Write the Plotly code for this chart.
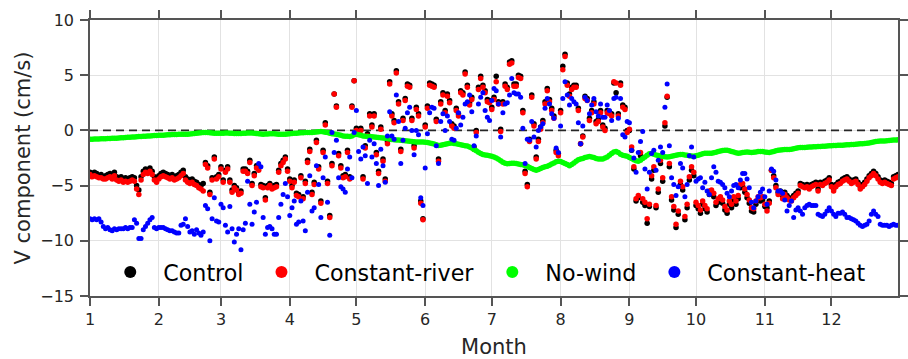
import plotly.graph_objects as go

# Day of year (0 = 1 January), one value per day
month_tick_days = [0, 31, 59, 90, 120, 151, 181, 212, 243, 273, 304, 334]
month_tick_labels = ["1", "2", "3", "4", "5", "6", "7", "8", "9", "10", "11", "12"]

control = [
    -3.8,-3.9,-3.8,-3.9,-4.1,-4.0,-4.2,-4.1,-4.0,-3.9,
    -4.1,-3.8,-4.2,-4.3,-4.2,-4.4,-4.3,-4.4,-4.3,-4.2,
    -4.3,-5.0,-5.4,-4.2,-3.7,-3.5,-3.6,-3.4,-3.7,-4.2,
    -4.4,-4.1,-3.9,-3.8,-3.9,-4.0,-4.1,-4.0,-4.2,-4.1,
    -4.0,-3.8,-3.6,-4.2,-4.4,-4.5,-4.4,-4.6,-4.7,-4.9,
    -5.0,-4.8,-2.9,-3.2,-5.6,-4.3,-2.4,-4.2,-4.0,-3.3,
    -4.5,-3.6,-3.3,-4.5,-5.4,-5.0,-5.2,-5.6,-5.5,-3.5,
    -3.5,-3.7,-2.7,-4.8,-3.9,-3.2,-3.4,-4.9,-5.0,-6.1,
    -5.0,-4.8,-5.1,-5.0,-4.9,-3.6,-3.0,-2.7,-2.4,-3.5,
    -4.4,-5.0,-4.5,-5.7,-5.8,-4.1,-6.0,-4.6,-2.7,-1.7,
    -5.6,-4.7,-0.9,-3.3,-6.4,-1.8,0.7,-4.6,-7.7,-3.0,
    3.3,2.2,-2.1,-3.2,-4.1,-4.0,-1.8,-4.2,2.2,4.5,
    0.2,0.0,0.2,-4.2,-1.4,-0.3,1.5,0.5,1.5,-2.0,
    -3.7,0.3,-2.6,-4.4,-1.0,4.4,1.5,0.9,5.4,2.6,
    -1.7,1.1,2.9,4.2,4.1,1.1,-1.4,2.1,1.5,-6.4,
    -8.0,0.5,2.2,4.3,4.2,4.1,1.0,-2.6,2.6,3.4,
    1.8,3.3,2.7,0.6,0.4,2.0,1.5,3.6,3.4,5.3,
    4.1,2.5,3.0,-1.5,0.0,3.9,4.9,4.1,3.6,2.8,
    2.7,2.1,3.0,4.9,2.6,0.1,2.6,4.2,3.9,6.2,
    6.3,4.2,4.2,5.0,4.9,1.8,-3.7,-4.9,-0.8,3.2,
    0.6,-2.4,-0.8,0.3,0.9,2.6,3.8,2.8,2.0,1.3,
    -1.8,-2.1,1.8,5.8,6.9,4.3,3.3,3.9,4.1,4.1,
    2.0,-1.2,-0.5,3.1,2.9,1.1,1.8,2.6,0.8,1.0,
    1.8,0.5,0.2,1.8,1.7,1.5,4.3,3.4,1.5,4.3,
    2.3,2.1,0.0,0.0,-1.8,-3.5,-6.4,-6.1,-2.3,-6.5,
    -6.8,-8.4,-6.9,-4.4,-3.6,-7.0,-5.6,-3.0,-4.6,0.4,
    3.0,-3.3,-6.3,-7.2,-8.8,-7.6,-4.9,-5.4,-8.1,-7.0,
    -4.5,-3.6,-4.1,-6.8,-7.1,-7.5,-6.7,-7.1,-7.4,-5.8,
    -5.7,-6.0,-6.8,-6.5,-6.3,-6.6,-7.2,-7.5,-6.7,-7.0,
    -6.3,-6.7,-6.2,-5.2,-5.1,-5.6,-6.1,-6.6,-7.3,-7.4,
    -6.7,-6.3,-6.4,-6.3,-6.9,-7.0,-6.4,-3.6,-4.1,-5.0,
    -5.6,-5.5,-6.0,-5.6,-5.9,-6.1,-6.2,-5.9,-5.7,-5.5,
    -4.8,-4.9,-5.0,-4.9,-5.1,-4.9,-4.8,-4.7,-5.3,-4.7,
    -4.8,-4.6,-4.5,-4.3,-4.9,-5.3,-4.9,-4.7,-4.6,-4.4,
    -4.3,-4.2,-4.4,-4.6,-4.5,-4.4,-4.7,-5.1,-4.9,-4.7,
    -4.4,-4.1,-3.9,-3.7,-3.9,-4.2,-4.5,-4.6,-4.5,-4.6,
    -4.7,-4.8,-4.2,-4.1,-4.0,
]

constant_river = [
    -4.0,-4.2,-4.1,-4.2,-4.3,-4.3,-4.4,-4.4,-4.3,-4.2,
    -4.4,-4.1,-4.5,-4.6,-4.5,-4.7,-4.6,-4.7,-4.6,-4.5,
    -4.6,-5.3,-5.8,-4.5,-4.0,-3.8,-3.9,-3.7,-4.0,-4.5,
    -4.7,-4.4,-4.2,-4.1,-4.2,-4.3,-4.4,-4.3,-4.5,-4.4,
    -4.3,-4.1,-3.9,-4.5,-4.7,-4.8,-4.7,-4.9,-5.0,-5.2,
    -5.3,-5.5,-3.1,-3.4,-5.8,-4.5,-2.6,-4.4,-4.2,-3.5,
    -4.7,-3.8,-3.5,-4.7,-5.6,-5.2,-5.4,-5.8,-5.7,-3.7,
    -3.7,-3.9,-2.9,-5.0,-4.1,-3.4,-3.6,-5.1,-5.2,-6.3,
    -5.2,-5.0,-5.3,-5.2,-5.1,-3.8,-3.2,-2.9,-2.6,-3.7,
    -4.6,-5.2,-4.7,-5.9,-6.0,-4.3,-6.2,-4.8,-2.9,-1.9,
    -5.8,-4.9,-1.1,-3.5,-6.6,-2.0,0.5,-4.8,-7.9,-3.2,
    3.3,2.1,-2.3,-3.4,-4.3,-4.2,-2.0,-4.4,2.1,4.5,
    0.0,-0.2,0.0,-4.4,-1.6,-0.5,1.3,0.3,1.3,-2.2,
    -3.9,0.1,-2.8,-4.6,-1.2,4.2,1.3,0.7,5.2,2.4,
    -1.9,0.9,2.7,4.0,3.9,0.9,-1.6,1.9,1.3,-6.6,
    -8.1,0.3,2.0,4.1,4.0,3.9,0.8,-2.8,2.4,3.2,
    1.6,3.1,2.5,0.4,0.2,1.8,1.3,3.4,3.2,5.1,
    3.9,2.3,2.8,-1.7,-0.2,3.7,4.7,3.9,3.4,2.6,
    2.5,1.9,2.8,4.4,2.4,-0.1,2.4,4.0,3.7,6.0,
    6.1,4.0,4.0,4.8,4.7,1.6,-3.9,-5.1,-1.0,3.0,
    0.4,-2.6,-1.0,0.1,0.7,2.4,3.6,2.6,1.8,1.1,
    -2.0,-2.3,1.6,5.5,6.7,4.1,3.1,3.7,3.9,3.9,
    1.8,-1.2,-0.6,2.9,2.7,0.9,1.6,2.4,0.6,0.8,
    1.6,0.3,0.0,1.6,1.5,1.3,4.4,4.3,1.3,4.1,
    2.1,1.9,-0.2,0.1,-1.5,-3.3,-6.2,-5.9,-2.0,-6.2,
    -6.5,-8.0,-6.7,-4.1,-3.3,-6.8,-5.3,-2.7,-4.3,0.7,
    3.1,-3.0,-6.0,-6.9,-8.5,-7.3,-4.6,-5.1,-7.8,-6.7,
    -4.2,-3.3,-3.8,-6.5,-6.8,-7.2,-6.4,-6.8,-7.1,-5.5,
    -5.4,-5.7,-6.5,-6.2,-6.0,-6.3,-6.9,-7.2,-6.4,-6.7,
    -6.0,-6.4,-5.9,-4.9,-4.8,-5.3,-5.8,-6.3,-7.0,-7.1,
    -6.4,-6.0,-6.1,-6.0,-6.7,-7.3,-6.6,-3.6,-4.3,-5.2,
    -5.8,-5.7,-6.2,-5.8,-6.1,-6.3,-6.4,-6.1,-5.9,-5.7,
    -5.0,-5.1,-5.2,-5.1,-5.3,-5.1,-5.0,-4.9,-5.5,-4.9,
    -5.0,-4.8,-4.7,-4.5,-5.1,-5.5,-5.1,-4.9,-4.8,-4.6,
    -4.5,-4.4,-4.6,-4.8,-4.7,-4.6,-4.9,-5.3,-5.1,-4.9,
    -4.6,-4.3,-4.1,-3.9,-4.1,-4.4,-4.7,-4.8,-4.7,-4.8,
    -4.9,-5.0,-4.4,-4.3,-4.2,
]

no_wind = [
    -0.80,-0.80,-0.78,-0.78,-0.77,-0.76,-0.76,-0.75,-0.74,-0.74,
    -0.72,-0.70,-0.70,-0.68,-0.66,-0.66,-0.64,-0.62,-0.62,-0.60,
    -0.60,-0.58,-0.56,-0.55,-0.54,-0.52,-0.50,-0.50,-0.48,-0.47,
    -0.46,-0.45,-0.45,-0.44,-0.42,-0.40,-0.40,-0.38,-0.38,-0.37,
    -0.36,-0.36,-0.35,-0.34,-0.34,-0.32,-0.30,-0.28,-0.26,-0.24,
    -0.22,-0.20,-0.18,-0.20,-0.22,-0.24,-0.25,-0.25,-0.26,-0.25,
    -0.25,-0.24,-0.24,-0.25,-0.26,-0.27,-0.28,-0.28,-0.27,-0.26,
    -0.25,-0.24,-0.23,-0.24,-0.26,-0.28,-0.30,-0.32,-0.34,-0.33,
    -0.32,-0.30,-0.30,-0.31,-0.33,-0.35,-0.36,-0.36,-0.34,-0.32,
    -0.30,-0.28,-0.26,-0.25,-0.24,-0.22,-0.21,-0.20,-0.20,-0.19,
    -0.18,-0.17,-0.15,-0.12,-0.10,-0.12,-0.16,-0.20,-0.25,-0.30,
    -0.33,-0.36,-0.40,-0.45,-0.50,-0.52,-0.54,-0.55,-0.50,-0.40,
    -0.35,-0.40,-0.45,-0.50,-0.52,-0.55,-0.56,-0.58,-0.60,-0.62,
    -0.64,-0.66,-0.68,-0.70,-0.74,-0.78,-0.82,-0.85,-0.86,-0.88,
    -0.90,-0.92,-0.94,-0.96,-0.98,-1.00,-1.02,-1.04,-1.05,-1.05,
    -1.06,-1.08,-1.10,-1.14,-1.18,-1.24,-1.30,-1.36,-1.34,-1.30,
    -1.26,-1.20,-1.16,-1.15,-1.18,-1.22,-1.26,-1.30,-1.34,-1.38,
    -1.42,-1.50,-1.60,-1.72,-1.85,-1.98,-2.10,-2.18,-2.22,-2.26,
    -2.30,-2.35,-2.40,-2.50,-2.62,-2.75,-2.88,-2.98,-3.02,-3.00,
    -2.98,-2.97,-3.00,-3.05,-3.10,-3.12,-3.18,-3.25,-3.35,-3.45,
    -3.55,-3.60,-3.55,-3.45,-3.35,-3.30,-3.25,-3.15,-3.05,-2.95,
    -2.85,-2.80,-2.82,-2.90,-3.00,-3.10,-3.20,-3.10,-2.95,-2.80,
    -2.65,-2.60,-2.55,-2.45,-2.40,-2.36,-2.40,-2.45,-2.55,-2.60,
    -2.60,-2.58,-2.50,-2.40,-2.25,-2.10,-1.95,-1.90,-2.00,-2.15,
    -2.25,-2.30,-2.35,-2.45,-2.55,-2.65,-2.75,-2.80,-2.70,-2.55,
    -2.40,-2.25,-2.12,-2.10,-2.15,-2.22,-2.28,-2.32,-2.36,-2.38,
    -2.40,-2.38,-2.34,-2.30,-2.25,-2.20,-2.18,-2.18,-2.22,-2.26,
    -2.30,-2.32,-2.34,-2.30,-2.24,-2.18,-2.12,-2.08,-2.06,-2.08,
    -2.06,-2.02,-1.98,-1.92,-1.86,-1.82,-1.80,-1.80,-1.84,-1.90,
    -1.96,-2.02,-2.06,-2.04,-2.00,-1.98,-1.96,-1.98,-2.00,-1.98,
    -1.95,-1.92,-1.90,-1.92,-1.95,-1.98,-2.00,-1.96,-1.90,-1.84,
    -1.80,-1.78,-1.76,-1.74,-1.74,-1.72,-1.70,-1.66,-1.62,-1.58,
    -1.56,-1.55,-1.54,-1.52,-1.50,-1.50,-1.49,-1.48,-1.46,-1.45,
    -1.44,-1.43,-1.42,-1.40,-1.38,-1.37,-1.36,-1.35,-1.35,-1.34,
    -1.32,-1.30,-1.30,-1.28,-1.27,-1.26,-1.24,-1.22,-1.20,-1.18,
    -1.16,-1.14,-1.10,-1.05,-1.00,-0.98,-0.97,-0.96,-0.95,-0.93,
    -0.92,-0.90,-0.88,-0.87,-0.85,
]

constant_heat = [
    -8.0,-8.1,-8.0,-8.1,-8.0,-8.3,-8.7,-8.9,-8.8,-9.0,
    -9.1,-8.9,-9.0,-8.9,-8.9,-8.9,-8.8,-8.9,-8.8,-8.8,
    -8.1,-8.4,-9.8,-9.8,-9.0,-8.7,-8.4,-8.1,-7.9,-8.8,
    -8.9,-8.8,-8.8,-8.8,-8.9,-9.0,-9.1,-9.1,-9.2,-9.3,
    -9.3,-8.6,-8.5,-8.0,-8.7,-9.2,-9.1,-9.4,-9.0,-9.3,
    -9.5,-9.2,-6.8,-7.1,-10.0,-8.0,-6.1,-8.2,-8.3,-6.7,
    -7.0,-8.6,-9.2,-6.9,-8.9,-10.1,-9.4,-8.9,-10.8,-9.0,
    -8.4,-4.6,-6.7,-8.5,-7.4,-6.5,-3.0,-3.3,-7.9,-9.4,
    -8.8,-8.7,-8.9,-9.4,-9.4,-7.9,-6.7,-5.8,-4.8,-6.0,
    -7.7,-7.0,-6.4,-8.5,-8.3,-6.4,-8.2,-9.1,-5.6,-4.1,
    -7.3,-7.0,-3.2,-4.9,-7.9,-4.3,-2.4,-6.5,-9.5,-0.2,
    -2.0,-0.9,-4.3,-5.1,-5.3,-5.6,-3.5,-2.4,-4.3,-0.2,
    1.8,-1.9,-2.6,-1.5,-2.3,-4.8,-0.9,-2.4,-1.2,-3.0,
    -5.0,-1.7,-3.2,-4.7,-0.5,1.7,-0.5,-0.8,3.2,0.8,
    -3.0,-0.9,0.2,1.6,2.1,0.0,-2.2,0.0,-0.4,-6.1,
    -6.8,-3.4,-0.3,1.6,2.1,2.0,-1.4,-3.0,0.8,1.5,
    0.0,1.3,0.8,-0.8,-0.9,0.2,1.6,0.5,1.2,2.4,
    2.6,3.2,1.7,-1.4,-0.5,2.4,3.0,3.4,1.8,1.2,
    0.9,2.7,3.8,3.6,2.4,-0.6,1.6,2.4,2.5,3.2,
    4.7,3.4,3.3,3.3,3.0,0.2,-3.0,-0.8,-0.9,0.8,
    -0.6,-1.5,0.0,0.3,0.6,2.0,2.9,2.4,1.5,1.1,
    -1.6,-2.0,0.4,2.9,4.4,3.2,2.3,2.9,2.6,2.4,
    0.7,-1.2,0.4,3.0,2.7,1.5,2.3,2.9,1.7,1.3,
    2.4,1.2,1.2,2.3,1.8,0.9,2.9,3.0,1.1,2.9,
    -0.4,-0.6,0.8,0.7,-1.8,-2.5,-3.8,-2.0,-1.0,-0.1,
    -3.5,-5.3,-3.8,-2.1,-1.8,-3.6,-2.7,-1.5,-2.0,2.1,
    4.2,-1.4,-4.3,-4.9,-5.9,-5.1,-3.0,-3.4,-6.0,-4.9,
    -2.3,-1.5,-2.4,-4.6,-4.4,-4.3,-5.2,-4.7,-5.5,-5.8,
    -4.3,-3.3,-3.8,-4.6,-4.7,-4.9,-5.2,-5.7,-6.0,-5.5,
    -5.0,-4.9,-5.2,-4.5,-3.9,-3.9,-4.4,-5.2,-6.5,-7.0,
    -6.4,-6.0,-5.6,-5.3,-6.0,-6.7,-5.5,-3.5,-3.7,-4.5,
    -5.5,-5.5,-5.7,-6.3,-7.3,-6.8,-6.4,-7.9,-7.2,-7.0,
    -7.3,-7.6,-7.0,-6.8,-6.7,-6.8,-6.8,-6.8,-7.6,-7.7,
    -7.8,-7.6,-7.3,-7.0,-7.3,-7.6,-7.8,-7.5,-7.5,-7.4,
    -7.6,-7.9,-7.9,-8.0,-8.1,-8.2,-8.4,-8.6,-8.7,-8.6,
    -8.5,-8.2,-7.6,-7.3,-7.6,-7.8,-8.5,-8.6,-8.6,-8.6,
    -8.7,-8.6,-8.5,-8.6,-8.6,
]

series = [
    ("Control", control, "#000000", 5.5),
    ("Constant-river", constant_river, "#ff0000", 5.5),
    ("No-wind", no_wind, "#00ff00", 5.5),
    ("Constant-heat", constant_heat, "#0000ff", 5),
]

FONT = "DejaVu Sans"
AX = "#555555"

fig = go.Figure()
for name, vals, color, size in series:
    fig.add_trace(go.Scatter(
        x=list(range(len(vals))), y=vals, mode="markers", name=name,
        marker=dict(color=color, size=size, line=dict(width=0)),
    ))

fig.add_shape(type="line", xref="x", yref="y", x0=0, x1=364, y0=0, y1=0,
              line=dict(color="#262626", width=1.6, dash="8px,5px"), layer="between")

axis_common = dict(
    showline=True, linecolor=AX, linewidth=1.5, mirror="ticks",
    ticks="outside", ticklen=8, tickwidth=1.5, tickcolor=AX,
    showgrid=True, gridcolor="#e2e2e2", gridwidth=1, zeroline=False,
    tickfont=dict(family=FONT, size=16, color="#262626"),
)

fig.update_layout(
    width=908, height=359,
    margin=dict(l=90, r=0, t=20, b=63, pad=0),
    paper_bgcolor="white", plot_bgcolor="white",
    font=dict(family=FONT, color="#262626"),
    showlegend=True,
    legend=dict(
        orientation="h", x=0.009, y=0.087, xanchor="left", yanchor="middle",
        bgcolor="rgba(0,0,0,0)", borderwidth=0, itemsizing="constant",
        itemwidth=56, font=dict(family=FONT, size=22.2, color="#000000"),
        traceorder="normal",
    ),
    xaxis=dict(range=[0, 364], tickvals=month_tick_days, ticktext=month_tick_labels,
               title=dict(text="Month", font=dict(family=FONT, size=21, color="#262626"), standoff=13),
               **axis_common),
    yaxis=dict(range=[-15, 10], tickvals=[-15, -10, -5, 0, 5, 10], ticklabelstandoff=3,
               title=dict(text="V component (cm/s)", font=dict(family=FONT, size=21, color="#262626"), standoff=4),
               **axis_common),
)

fig.write_html("out.html")
